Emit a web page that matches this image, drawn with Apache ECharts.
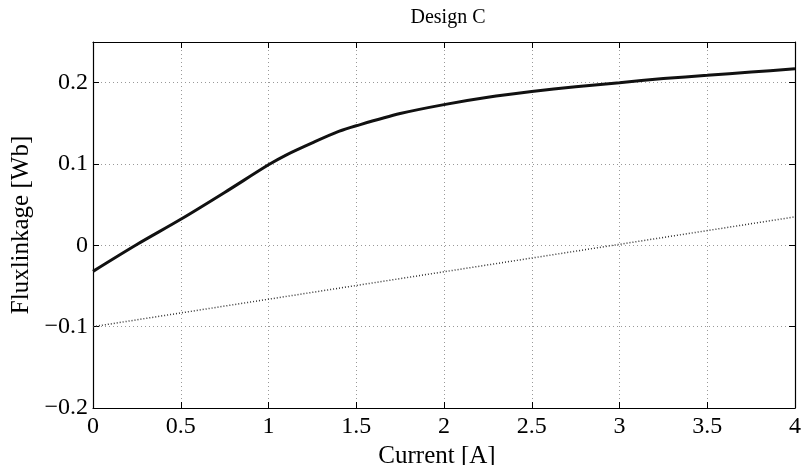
<!DOCTYPE html>
<html>
<head>
<meta charset="utf-8">
<script src="https://cdn.jsdelivr.net/npm/echarts@6/dist/echarts.min.js"></script>
<style>
  html, body { margin: 0; padding: 0; background: #fff; }
  #main { width: 804px; height: 465px; }
</style>
</head>
<body>
<div id="main"></div>
<script>
// data
const currentA = [0, 0.25, 0.5, 0.75, 1, 1.1, 1.25, 1.4, 1.5, 1.75, 2, 2.25, 2.5, 2.75, 3, 3.25, 3.5, 3.75, 4]
const fluxSolid = [-0.032, 0.001, 0.032, 0.065, 0.099, 0.111, 0.126, 0.14, 0.147, 0.162, 0.173, 0.182, 0.189, 0.195, 0.2, 0.205, 0.209, 0.213, 0.217]
const dottedX = [0, 4]
const fluxDotted = [-0.1, 0.035]
const xTicks = [0, 0.5, 1, 1.5, 2, 2.5, 3, 3.5, 4]
const yTicks = [-0.2, -0.1, 0, 0.1, 0.2]

const font = 'Liberation Serif, Times New Roman, serif'
const fmtNum = v => String(Math.round(v * 100) / 100).replace('-', '\u2212')

var myChart = echarts.init(document.getElementById('main'))

const gridLine = { show: true, lineStyle: { color: '#999', type: [1, 3], width: 1 } }
const boxLine = { show: true, onZero: false, lineStyle: { color: '#000', width: 1.2 } }
const inTick = { show: true, inside: true, length: 6, lineStyle: { color: '#000' } }

var option = {
  animation: false,
  title: {
    text: 'Design C',
    left: 443, top: 3, textAlign: 'center',
    textStyle: { fontFamily: font, fontSize: 20, fontWeight: 'normal', color: '#000' }
  },
  grid: { left: 93, right: 9, top: 42, bottom: 57, outerBoundsMode: 'none', containLabel: false },
  xAxis: [{
    type: 'value', min: 0, max: 4, interval: 0.5,
    name: 'Current [A]', nameLocation: 'middle', nameGap: 29,
    nameTextStyle: { fontFamily: font, fontSize: 25, color: '#000', padding: [0, 14, 0, 0] },
    axisLine: boxLine, axisTick: inTick, splitLine: gridLine,
    axisLabel: { fontFamily: font, fontSize: 24, color: '#000', margin: 7, formatter: fmtNum }
  }, {
    type: 'value', position: 'top', min: 0, max: 4, interval: 0.5,
    axisLine: boxLine, axisTick: inTick, splitLine: { show: false }, axisLabel: { show: false }
  }],
  yAxis: [{
    type: 'value', min: -0.2, max: 0.25, interval: 0.1,
    name: 'Fluxlinkage [Wb]', nameLocation: 'middle', nameGap: 58,
    nameTextStyle: { fontFamily: font, fontSize: 25, color: '#000' },
    axisLine: boxLine, axisTick: inTick, splitLine: gridLine,
    axisLabel: { fontFamily: font, fontSize: 24, color: '#000', margin: 5, showMaxLabel: false, formatter: fmtNum }
  }, {
    type: 'value', position: 'right', min: -0.2, max: 0.25, interval: 0.1,
    axisLine: boxLine, axisTick: inTick, splitLine: { show: false }, axisLabel: { show: false }
  }],
  series: [{
    type: 'line', showSymbol: false, smooth: 0.3,
    data: currentA.map((x, i) => [x, fluxSolid[i]]),
    lineStyle: { color: '#111', width: 3 }
  }, {
    type: 'line', showSymbol: false,
    data: dottedX.map((x, i) => [x, fluxDotted[i]]),
    lineStyle: { color: '#333', width: 1.5, type: [1, 2] }
  }]
}

myChart.setOption(option)
</script>
</body>
</html>
